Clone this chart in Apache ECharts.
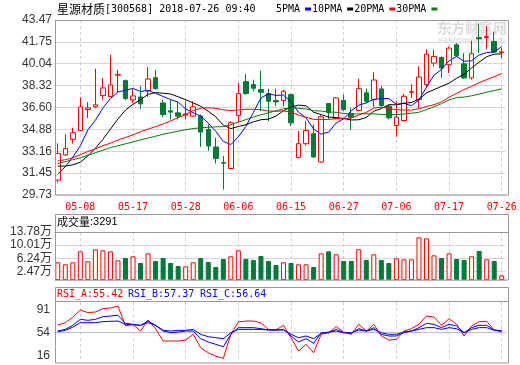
<!DOCTYPE html>
<html><head><meta charset="utf-8">
<script src="https://cdn.jsdelivr.net/npm/echarts@6/dist/echarts.min.js"></script>
<style>html,body{margin:0;padding:0;background:#fff}#c{width:520px;height:365px}</style>
</head><body><div id="c"></div>
<script>
const dates = ['05-03','05-04','05-07','05-08','05-09','05-10','05-11','05-14','05-15','05-16','05-17','05-18','05-21','05-22','05-23','05-24','05-25','05-28','05-29','05-30','05-31','06-01','06-04','06-05','06-06','06-07','06-08','06-11','06-12','06-13','06-14','06-15','06-19','06-20','06-21','06-22','06-25','06-26','06-27','06-28','06-29','07-02','07-03','07-04','07-05','07-06','07-09','07-10','07-11','07-12','07-13','07-16','07-17','07-18','07-19','07-20','07-23','07-24','07-25','07-26'];
const opens = [30.90,32.88,34.10,34.80,36.44,36.65,37.54,37.46,39.14,38.71,37.20,37.43,37.90,38.94,36.96,36.34,36.18,36.00,35.92,35.92,34.88,33.50,32.28,31.81,35.98,38.63,38.40,38.01,37.69,37.14,37.15,37.61,32.67,33.76,34.54,32.33,36.91,35.74,37.15,36.13,36.37,37.75,37.22,38.06,36.70,35.19,35.58,37.80,37.22,38.40,40.09,40.53,39.96,41.52,40.03,38.92,42.09,42.09,41.78,40.92];
const closes = [32.98,33.37,34.62,36.65,36.57,36.81,38.14,38.37,39.20,37.30,37.51,36.89,38.84,38.08,36.05,36.24,35.92,36.10,36.65,34.67,33.58,32.59,32.23,35.40,37.69,37.69,38.11,37.80,37.09,37.04,37.88,35.40,33.76,34.80,32.72,35.87,36.18,37.35,36.44,35.84,38.08,37.09,38.76,36.76,35.79,35.84,37.48,37.85,38.99,40.79,40.61,39.70,41.26,40.66,38.92,40.82,41.99,42.17,40.95,40.97];
const highs = [33.79,34.49,35.01,37.41,37.02,39.64,38.92,40.74,39.57,38.79,38.08,38.27,39.77,39.57,37.22,37.22,37.02,37.09,37.09,36.05,35.27,34.23,32.80,35.53,38.53,39.25,38.79,39.49,38.08,38.08,37.99,37.69,34.75,35.53,35.27,36.00,36.96,37.41,37.61,36.57,38.86,38.08,39.36,38.32,36.83,37.09,37.69,38.40,39.83,41.18,41.13,40.61,41.39,41.65,40.87,41.83,43.21,43.00,42.56,41.26];
const lows = [30.72,32.80,33.76,34.75,35.77,36.57,37.22,37.41,37.80,37.17,36.96,36.50,37.43,38.01,35.84,35.66,35.66,35.66,35.87,33.50,33.19,32.20,30.15,31.76,35.45,37.61,37.87,36.31,35.53,36.70,36.70,35.14,32.59,33.63,32.62,32.28,35.66,35.66,36.31,34.83,36.31,36.96,36.65,36.65,35.66,34.31,35.48,37.35,36.57,38.14,39.83,38.92,39.31,40.56,38.84,38.79,40.87,41.18,40.87,40.48];
const ma5 = [31.37,31.95,32.70,33.60,34.84,35.60,36.56,37.31,37.82,37.96,38.10,37.85,37.95,37.72,37.47,37.22,37.03,36.48,36.19,35.92,35.38,34.72,33.94,33.69,34.30,35.12,36.22,37.34,37.68,37.55,37.58,37.04,36.23,35.78,34.91,34.51,34.67,35.38,35.71,36.34,36.78,36.96,37.24,37.31,37.30,36.85,36.93,36.74,37.19,38.19,39.14,39.59,40.27,40.60,40.23,40.27,40.73,40.91,40.97,41.38];
const ma10 = [32.00,32.00,32.10,32.30,32.80,33.40,34.10,34.90,35.70,36.40,36.85,37.21,37.63,37.77,37.72,37.66,37.44,37.21,36.96,36.70,36.30,35.87,35.21,34.94,35.11,35.25,35.47,35.64,35.69,35.92,36.35,36.63,36.79,36.73,36.23,36.05,35.85,35.81,35.74,35.62,35.64,35.81,36.31,36.51,36.82,36.81,36.94,36.99,37.25,37.74,38.00,38.26,38.51,38.90,39.21,39.71,40.16,40.59,40.79,40.81];
const ma20 = [32.40,32.50,32.65,32.90,33.15,33.35,33.60,33.80,34.05,34.25,34.45,34.70,34.90,35.10,35.30,35.55,35.80,36.05,36.35,36.55,36.58,36.54,36.42,36.36,36.41,36.46,36.46,36.43,36.32,36.31,36.33,36.25,36.00,35.83,35.67,35.65,35.66,35.73,35.71,35.77,36.00,36.22,36.55,36.62,36.52,36.43,36.40,36.40,36.50,36.68,36.82,37.04,37.41,37.70,38.01,38.26,38.55,38.79,39.02,39.27];
const ma30 = [32.20,32.35,32.50,32.65,32.85,33.05,33.25,33.45,33.60,33.75,33.90,34.05,34.20,34.35,34.50,34.62,34.74,34.85,34.95,35.00,35.05,35.08,35.10,35.25,35.45,35.65,35.85,36.03,36.18,36.34,36.50,36.57,36.54,36.48,36.35,36.32,36.26,36.22,36.13,36.08,36.10,36.11,36.10,36.06,36.05,36.04,36.09,36.15,36.23,36.43,36.66,36.90,37.20,37.38,37.42,37.52,37.65,37.80,37.93,38.06];
const volumes = [5.08,4.50,5.08,8.24,5.36,8.81,8.52,8.24,5.65,6.32,6.80,4.88,7.66,5.45,6.32,4.88,4.02,3.93,5.08,6.32,5.17,3.73,6.03,6.80,8.52,6.03,5.74,6.89,5.45,4.31,5.08,4.88,4.50,4.50,3.73,7.66,8.24,7.37,5.45,5.45,8.81,5.74,7.37,5.74,4.88,6.22,5.93,5.93,12.25,11.96,7.08,6.32,7.66,6.03,5.74,6.80,8.33,5.93,5.45,1.34];
const rsiA = [66.5,70.3,79.0,91.0,86.6,87.7,93.2,94.2,97.5,64.9,67.6,56.7,74.7,60.5,40.4,40.4,40.4,42.0,51.3,29.5,21.3,15.9,12.1,51.3,71.4,73.0,73.0,70.0,59.4,58.4,66.0,45.8,24.1,35.0,21.3,51.3,54.0,63.8,55.1,51.3,67.6,56.7,67.6,48.6,42.0,43.1,56.7,60.5,67.6,81.2,79.5,66.0,76.8,67.6,48.6,64.9,71.9,72.5,58.4,55.42];
const rsiB = [56.7,59.4,66.0,75.8,74.1,75.8,80.1,81.2,82.3,69.2,67.6,66.0,73.0,66.0,56.7,54.0,55.0,56.7,56.7,44.2,38.8,35.0,31.2,51.3,62.2,62.2,62.2,60.5,58.4,58.4,59.4,48.6,38.8,44.2,36.6,54.0,54.0,59.4,54.0,52.9,60.5,56.7,62.2,51.3,48.6,48.6,54.0,56.7,62.2,69.2,67.6,62.2,67.6,64.9,54.0,62.2,66.0,66.0,58.4,57.37];
const rsiC = [55.6,57.8,63.0,70.3,70.3,70.3,72.0,72.5,73.0,67.6,67.0,66.0,70.3,66.0,58.0,56.7,57.8,57.8,59.4,51.3,47.5,45.8,44.2,54.0,59.4,59.4,59.4,59.4,58.4,58.4,58.4,51.3,45.8,48.6,44.2,52.9,55.1,56.7,54.0,54.0,58.4,56.7,59.4,54.0,51.3,51.3,55.1,56.7,59.4,62.2,62.2,59.4,62.2,60.5,54.0,59.4,62.2,62.2,57.8,56.64];
const priceTicks = [29.73,31.45,33.16,34.88,36.60,38.32,40.04,41.75,43.47];
const volTicks = [0,2.47,6.24,10.01,13.78];
const rsiTicks = [16,54,91];
const maNames = ['5PMA','10PMA','20PMA','30PMA'];

const RED = '#ff0000', GREEN = '#007a38', BLUE = '#0000ff';
const MONO = "'DejaVu Sans Mono', monospace";
const SANS = "'Liberation Sans', 'Noto Sans CJK SC', sans-serif";
const CJK = "'Noto Sans CJK SC', sans-serif";
const GL = 54, GW = 451.5;
const every = (i) => i % 7 === 3;
const vSplit = {show: true, interval: every, alignWithLabel: true, lineStyle: {color: '#cfcfcf', type: [3, 3], width: 1}};
function xAx(gi, showLabel) {
  return {type: 'category', gridIndex: gi, data: dates, boundaryGap: true,
    axisLine: {show: false}, axisTick: {show: false, interval: every, alignWithLabel: true},
    axisLabel: {show: showLabel, interval: every, color: RED, fontSize: 10, fontFamily: MONO, margin: 7},
    splitLine: vSplit};
}
const up = (i) => closes[i] >= opens[i];
const chart = echarts.init(document.getElementById('c'));
const frame = '#999999';
chart.setOption({
  animation: false,
  backgroundColor: '#ffffff',
  grid: [
    {left: GL, top: 20, width: GW, height: 175},
    {left: GL, top: 232, width: GW, height: 48},
    {left: GL, top: 302, width: GW, height: 61}
  ],
  legend: {data: maNames, left: 276, top: 4, padding: 0, align: 'right', icon: 'rect', itemWidth: 6, itemHeight: 3, itemGap: 1,
    textStyle: {color: '#000', fontSize: 10, fontFamily: MONO}, selectedMode: false},
  xAxis: [xAx(0, true), xAx(1, false), xAx(2, false)],
  yAxis: [
    {type: 'value', gridIndex: 0, min: 29.73, max: 43.47, axisLine: {show: false},
      axisTick: {show: false, customValues: priceTicks},
      axisLabel: {customValues: priceTicks, formatter: v => v.toFixed(2), color: '#333', fontSize: 12, fontFamily: SANS, margin: 2},
      splitLine: {show: true, lineStyle: {color: '#d6d6d6'}}},
    {type: 'value', gridIndex: 1, min: 0, max: 13.78, axisLine: {show: false},
      axisTick: {show: false, customValues: volTicks},
      axisLabel: {customValues: volTicks, formatter: v => v === 0 ? '0' : v.toFixed(2) + '万', color: '#333', fontSize: 12, fontFamily: SANS, margin: 2},
      splitLine: {show: true, lineStyle: {color: '#d6d6d6'}}},
    {type: 'value', gridIndex: 2, min: 4.6, max: 104, axisLine: {show: false},
      axisTick: {show: false, customValues: rsiTicks},
      axisLabel: {customValues: rsiTicks, color: '#333', fontSize: 12, fontFamily: SANS, margin: 4},
      splitLine: {show: false}},
    {type: 'value', gridIndex: 2, min: 4.6, max: 104, position: 'left', axisLine: {show: false},
      axisTick: {show: false, customValues: [54]}, axisLabel: {show: false, customValues: [54]},
      splitLine: {show: true, lineStyle: {color: '#bdbdbd'}}}
  ],
  series: [
    {type: 'candlestick', xAxisIndex: 0, yAxisIndex: 0, barWidth: 5,
      data: dates.map((d, i) => [opens[i], closes[i], lows[i], highs[i]]),
      itemStyle: {color: '#ffffff', color0: GREEN, borderColor: RED, borderColor0: GREEN, borderWidth: 1}},
    {name: '5PMA', type: 'line', data: ma5, symbol: 'none', lineStyle: {color: BLUE, width: 1}, itemStyle: {color: BLUE}},
    {name: '10PMA', type: 'line', data: ma10, symbol: 'none', lineStyle: {color: '#000', width: 1}, itemStyle: {color: '#000'}},
    {name: '20PMA', type: 'line', data: ma20, symbol: 'none', lineStyle: {color: RED, width: 1}, itemStyle: {color: RED}},
    {name: '30PMA', type: 'line', data: ma30, symbol: 'none', lineStyle: {color: '#008000', width: 1}, itemStyle: {color: '#008000'}},
    {type: 'bar', xAxisIndex: 1, yAxisIndex: 1, barWidth: 5,
      data: volumes.map((v, i) => ({value: v, itemStyle: up(i) ? {color: '#ffffff', borderColor: RED, borderWidth: 1} : {color: GREEN, borderColor: GREEN, borderWidth: 1}}))},
    {type: 'line', xAxisIndex: 2, yAxisIndex: 2, data: rsiA, symbol: 'none', lineStyle: {color: RED, width: 1}},
    {type: 'line', xAxisIndex: 2, yAxisIndex: 2, data: rsiB, symbol: 'none', lineStyle: {color: BLUE, width: 1}},
    {type: 'line', xAxisIndex: 2, yAxisIndex: 2, data: rsiC, symbol: 'none', lineStyle: {color: BLUE, width: 1}}
  ],
  graphic: [
    {type: 'text', left: 437, top: 21, z: 0, style: {text: '东方财富网', fill: '#dcdcdc', font: "bold 14px 'Noto Sans CJK SC'"}},
    {type: 'text', left: 438, top: 36, z: 0, style: {text: 'eastmoney.com', fill: '#e0e0e0', font: "bold 9px 'Liberation Sans'"}},
    {type: 'rect', shape: {x: 55.5, y: 20.5, width: 453, height: 174.5}, style: {fill: 'none', stroke: frame, lineWidth: 1}, z: 5},
    {type: 'rect', shape: {x: 55.5, y: 214.5, width: 453, height: 65.5}, style: {fill: 'none', stroke: frame, lineWidth: 1}, z: 5},
    {type: 'line', shape: {x1: 55.5, y1: 232.5, x2: 508.5, y2: 232.5}, style: {stroke: frame, lineWidth: 1}, z: 5},
    {type: 'rect', shape: {x: 55.5, y: 287.5, width: 453, height: 75.5}, style: {fill: 'none', stroke: frame, lineWidth: 1}, z: 5},
    {type: 'line', shape: {x1: 55.5, y1: 301.5, x2: 508.5, y2: 301.5}, style: {stroke: frame, lineWidth: 1}, z: 5},
    {type: 'text', left: 57, top: 3, z: 5, style: {text: '{a|星源材质}{b|[300568] 2018-07-26 09:40}', fill: '#000',
      rich: {a: {fontSize: 12, fontFamily: CJK, fill: '#000'}, b: {fontSize: 10, fontFamily: MONO, fill: '#000'}}}},
    {type: 'text', left: 57, top: 216, z: 5, style: {text: '{a|成交量}{b|:3291}', fill: '#000',
      rich: {a: {fontSize: 11, fontFamily: CJK, fill: '#000'}, b: {fontSize: 11, fontFamily: SANS, fill: '#000'}}}},
    {type: 'text', left: 57, top: 289, z: 5, style: {text: 'RSI_A:55.42', fill: RED, font: "10px 'DejaVu Sans Mono'"}},
    {type: 'text', left: 128, top: 289, z: 5, style: {text: 'RSI_B:57.37', fill: BLUE, font: "10px 'DejaVu Sans Mono'"}},
    {type: 'text', left: 200, top: 289, z: 5, style: {text: 'RSI_C:56.64', fill: BLUE, font: "10px 'DejaVu Sans Mono'"}}
  ]
});
</script></body></html>
